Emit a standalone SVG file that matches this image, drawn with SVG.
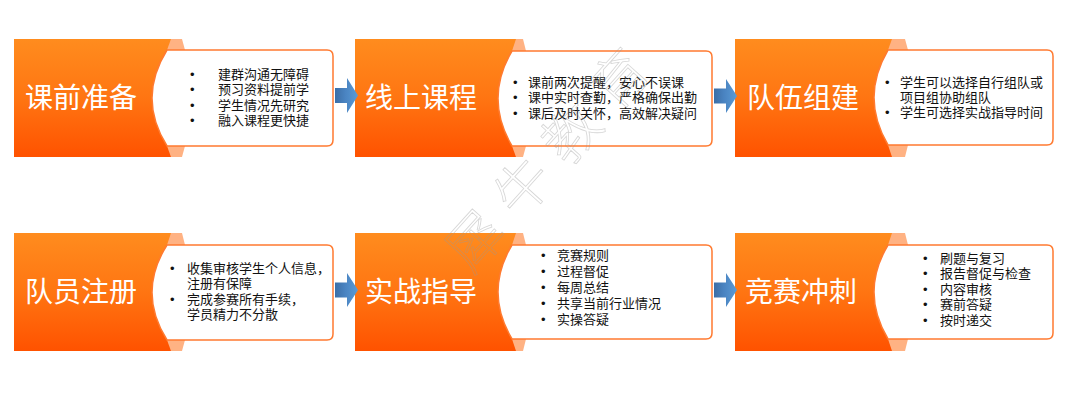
<svg xmlns="http://www.w3.org/2000/svg" width="1080" height="412" viewBox="0 0 1080 412">
<defs>
<linearGradient id="og" x1="0" y1="0" x2="0" y2="1">
<stop offset="0" stop-color="#FF8C1E"/>
<stop offset="0.5" stop-color="#FF7512"/>
<stop offset="1" stop-color="#FF5200"/>
</linearGradient>
<linearGradient id="ab" x1="0" y1="0" x2="1" y2="0">
<stop offset="0" stop-color="#3C6EA6"/>
<stop offset="0.45" stop-color="#4A84C2"/>
<stop offset="1" stop-color="#5B9BD5"/>
</linearGradient>
<style>
.box{fill:url(#og);}
.tab{fill:#FFB283;}
.bub{fill:#FFFFFF;stroke:#FF7A30;stroke-width:1.5;}
.ttl{font-family:"Noto Sans CJK SC","Noto Sans",sans-serif;font-size:28px;fill:#FFFFFF;}
.txt{font-family:"Liberation Sans","Noto Sans CJK SC",sans-serif;font-size:13px;fill:#111111;}
.arr{fill:url(#ab);}
.wm{font-family:"Noto Sans CJK SC",sans-serif;font-size:56px;font-weight:300;fill:none;stroke:#9A9A9A;stroke-width:0.8;opacity:0.4;}
</style>
</defs>
<rect width="1080" height="412" fill="#FFFFFF"/>

<g id="node-kqzb">
<rect class="box" x="14" y="39" width="168" height="118"/>
<polygon class="tab" points="171,39 182,39 185,50 167,50"/>
<polygon class="tab" points="167,146 185,146 182,157 171,157"/>
<path class="bub" d="M167,50 H327 Q333,50 333,56 V140 Q333,146 327,146 H167 Q137,98 167,50 Z"/>
<text class="ttl" x="25" y="107.5">课前准备</text>
<text class="txt" x="190" y="78.5">•</text><text class="txt" x="218" y="78.5">建群沟通无障碍</text>
<text class="txt" x="190" y="94">•</text><text class="txt" x="218" y="94">预习资料提前学</text>
<text class="txt" x="190" y="109.5">•</text><text class="txt" x="218" y="109.5">学生情况先研究</text>
<text class="txt" x="190" y="125">•</text><text class="txt" x="218" y="125">融入课程更快捷</text>
</g>

<g id="node-xskc">
<rect class="box" x="355" y="39" width="168" height="118"/>
<polygon class="tab" points="516,39 523,39 526,51 512,51"/>
<polygon class="tab" points="512,146 526,146 523,157 516,157"/>
<path class="bub" d="M512,51 H706 Q712,51 712,57 V140 Q712,146 706,146 H512 Q484,98.5 512,51 Z"/>
<text class="ttl" x="365" y="107.5">线上课程</text>
<text class="txt" x="513" y="86.5">•</text><text class="txt" x="528" y="86.5">课前两次提醒，安心不误课</text>
<text class="txt" x="513" y="102">•</text><text class="txt" x="528" y="102">课中实时查勤，严格确保出勤</text>
<text class="txt" x="513" y="117.5">•</text><text class="txt" x="528" y="117.5">课后及时关怀，高效解决疑问</text>
</g>

<g id="node-dwzj">
<rect class="box" x="735" y="39" width="170" height="118"/>
<polygon class="tab" points="892,39 905,39 908,50 888,50"/>
<polygon class="tab" points="888,145 908,145 905,157 892,157"/>
<path class="bub" d="M888,50 H1047 Q1053,50 1053,56 V139 Q1053,145 1047,145 H888 Q860,97.5 888,50 Z"/>
<text class="ttl" x="747" y="107.5">队伍组建</text>
<text class="txt" x="885" y="86.5">•</text><text class="txt" x="900" y="86.5">学生可以选择自行组队或</text>
<text class="txt" x="900" y="101.5">项目组协助组队</text>
<text class="txt" x="885" y="116.5">•</text><text class="txt" x="900" y="116.5">学生可选择实战指导时间</text>
</g>

<g id="node-dyzc">
<rect class="box" x="14" y="233" width="168" height="118"/>
<polygon class="tab" points="171,233 182,233 185,245 167,245"/>
<polygon class="tab" points="167,340 185,340 182,351 171,351"/>
<path class="bub" d="M167,245 H327 Q333,245 333,251 V334 Q333,340 327,340 H167 Q137,292.5 167,245 Z"/>
<text class="ttl" x="25" y="302">队员注册</text>
<text class="txt" x="170" y="272.5">•</text><text class="txt" x="187" y="272.5">收集审核学生个人信息，</text>
<text class="txt" x="187" y="287.5">注册有保障</text>
<text class="txt" x="170" y="303.5">•</text><text class="txt" x="187" y="303.5">完成参赛所有手续，</text>
<text class="txt" x="187" y="319">学员精力不分散</text>
</g>

<g id="node-szzd">
<rect class="box" x="355" y="233" width="168" height="118"/>
<polygon class="tab" points="516,233 523,233 526,245 512,245"/>
<polygon class="tab" points="512,339 526,339 523,351 516,351"/>
<path class="bub" d="M512,245 H706 Q712,245 712,251 V333 Q712,339 706,339 H512 Q484,292 512,245 Z"/>
<text class="ttl" x="365" y="302">实战指导</text>
<text class="txt" x="541" y="259.5">•</text><text class="txt" x="557" y="259.5">竞赛规则</text>
<text class="txt" x="541" y="275.5">•</text><text class="txt" x="557" y="275.5">过程督促</text>
<text class="txt" x="541" y="291.5">•</text><text class="txt" x="557" y="291.5">每周总结</text>
<text class="txt" x="541" y="307.5">•</text><text class="txt" x="557" y="307.5">共享当前行业情况</text>
<text class="txt" x="541" y="323.5">•</text><text class="txt" x="557" y="323.5">实操答疑</text>
</g>

<g id="node-jscc">
<rect class="box" x="735" y="233" width="170" height="118"/>
<polygon class="tab" points="892,233 905,233 908,245 888,245"/>
<polygon class="tab" points="888,339 908,339 905,351 892,351"/>
<path class="bub" d="M888,245 H1047 Q1053,245 1053,251 V333 Q1053,339 1047,339 H888 Q860,292 888,245 Z"/>
<text class="ttl" x="745" y="302">竞赛冲刺</text>
<text class="txt" x="923" y="262.5">•</text><text class="txt" x="940" y="262.5">刷题与复习</text>
<text class="txt" x="923" y="278">•</text><text class="txt" x="940" y="278">报告督促与检查</text>
<text class="txt" x="923" y="293.5">•</text><text class="txt" x="940" y="293.5">内容审核</text>
<text class="txt" x="923" y="309">•</text><text class="txt" x="940" y="309">赛前答疑</text>
<text class="txt" x="923" y="324.5">•</text><text class="txt" x="940" y="324.5">按时递交</text>
</g>

<g id="connectors">
<path class="arr" d="M335,88 H347 V78 L358,95.5 L347,113 V103 H335 Z"/>
<path class="arr" d="M714,88.5 H726 V79 L737,96 L726,113 V103.5 H714 Z"/>
<path class="arr" d="M335,282.5 H347 V273 L358,290 L347,307 V297.5 H335 Z"/>
<path class="arr" d="M714,282.5 H726 V273 L737,290 L726,307 V297.5 H714 Z"/>
</g>

<g id="watermark">
<text class="wm" text-anchor="middle" dominant-baseline="central" transform="translate(472,238) rotate(-48)">犀</text>
<text class="wm" text-anchor="middle" dominant-baseline="central" transform="translate(520,184) rotate(-48)">牛</text>
<text class="wm" text-anchor="middle" dominant-baseline="central" transform="translate(568,130) rotate(-48)">教</text>
<text class="wm" text-anchor="middle" dominant-baseline="central" transform="translate(616,76) rotate(-48)">育</text>
</g>
</svg>
